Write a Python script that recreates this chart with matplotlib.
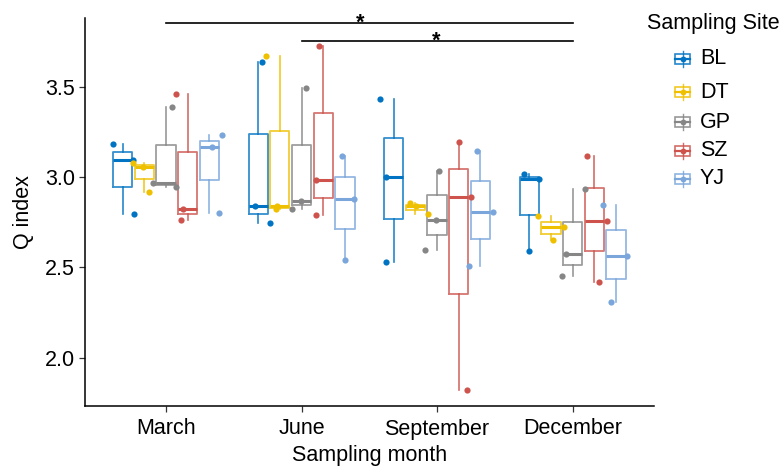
import matplotlib
matplotlib.use("Agg")
import matplotlib.pyplot as plt
from matplotlib.patches import Rectangle
from matplotlib.lines import Line2D
import numpy as np

plt.rcParams['font.family'] = ['Liberation Sans', 'DejaVu Sans']

months = ["March", "June", "September", "December"]
sites = ["BL", "DT", "GP", "SZ", "YJ"]
colors = ["#0073C2", "#EFC000", "#868686", "#CD534C", "#7AA6DC"]

# Q index values (3 samples per site and month)
BL = [[3.183, 3.094, 2.794], [3.637, 2.841, 2.748], [3.432, 3.002, 2.530], [3.017, 2.989, 2.594]]
DT = [[3.078, 3.059, 2.917], [3.670, 2.841, 2.822], [2.856, 2.839, 2.798], [2.785, 2.724, 2.650]]
GP = [[3.387, 2.970, 2.946], [3.493, 2.867, 2.824], [3.035, 2.765, 2.598], [2.933, 2.574, 2.450]]
SZ = [[3.459, 2.826, 2.765], [3.730, 2.983, 2.789], [3.198, 2.891, 1.820], [3.119, 2.759, 2.420]]
YJ = [[3.233, 3.167, 2.802], [3.119, 2.880, 2.543], [3.148, 2.808, 2.508], [2.848, 2.565, 2.309]]
values = [BL, DT, GP, SZ, YJ]

# horizontal jitter of the points (pixels)
jit_BL = [[-10, 10, 11], [3.7, -2.7, 12], [-13.7, -7.7, -7.7], [-4.8, 10.2, -0.5]]
jit_DT = [[-11.7, -1.7, 4.3], [-13.7, -3, -4.3], [-5, 0.7, 12.7], [-13.3, 12.7, 2.3]]
jit_GP = [[5.7, -12.7, 10], [4.5, -0.8, -9.5], [2, -1, -12.3], [12, -6.3, -10.3]]
jit_SZ = [[-11.3, -4.3, -7], [-3.8, -7.5, -7.5], [0.3, 12.7, 8.3], [-7.7, 12.7, 4.3]]
jit_YJ = [[12.3, 2.3, 10], [-2.5, 8.8, -0.2], [-3.7, 12.7, -11], [-13, 11, -5.3]]
jitters = [jit_BL, jit_DT, jit_GP, jit_SZ, jit_YJ]

# significance brackets (from month index, to month index, star label)
sig_from = [0, 1]
sig_to = [3, 3]
sig_label = ["*", "*"]
sig_y = [3.855, 3.754]

W, H = 783, 466
fig = plt.figure(figsize=(W / 100, H / 100), dpi=100)
ax = fig.add_axes([84.6 / W, 1 - 406 / H, (654 - 84.6) / W, (406 - 18) / H])

px_per_unit = 135.6
dodge = 0.16
bw = 0.142
FS = 15.5

for si, (site, col) in enumerate(zip(sites, colors)):
    for mi in range(len(months)):
        vals = values[si][mi]
        pos = mi + 1 + (si - 2) * dodge
        ax.boxplot([vals], positions=[pos], widths=bw, whis=1.5,
                   showcaps=False, showfliers=False, manage_ticks=False,
                   patch_artist=False,
                   boxprops=dict(color=col, linewidth=1.3, alpha=0.8),
                   whiskerprops=dict(color=col, linewidth=1.2, alpha=0.85),
                   medianprops=dict(color=col, linewidth=2.2, solid_capstyle='butt'),
                   zorder=2)
        xs = pos + np.array(jitters[si][mi]) / px_per_unit
        ax.scatter(xs, vals, s=20, color=col, zorder=3, linewidths=0)

ax.set_xlim(0.4, 4.6)
ax.set_ylim(1.732, 3.883)
ax.set_xticks(range(1, len(months) + 1))
ax.set_xticklabels(months)
ax.set_yticks([2.0, 2.5, 3.0, 3.5])
ax.set_yticklabels(["2.0", "2.5", "3.0", "3.5"])
for s in ["top", "right"]:
    ax.spines[s].set_visible(False)
for s in ["left", "bottom"]:
    ax.spines[s].set_linewidth(1.1)
    ax.spines[s].set_color("black")
ax.tick_params(axis='both', labelsize=FS, length=4, width=0.9, color="#333333",
               labelcolor="black")
ax.tick_params(axis='x', pad=5)
ax.tick_params(axis='y', pad=3)
ax.set_xlabel("Sampling month", fontsize=FS, labelpad=4)
ax.set_ylabel("Q index", fontsize=FS, labelpad=8)

star_x = [2.43, 2.99]
star_base = [3.824, 3.726]
for a, b, lab, yy, sx, sb in zip(sig_from, sig_to, sig_label, sig_y, star_x, star_base):
    ax.plot([a + 1, b + 1], [yy, yy], color="black", lw=1.2, clip_on=False, zorder=4)
    ax.text(sx, sb, lab, ha='center', va='baseline', fontsize=15.5,
            fontweight='bold', clip_on=False)

# legend (drawn manually in figure pixels)
def fx(x):
    return x / W

def fy(y):
    return 1 - y / H

fig.text(fx(713), fy(23), "Sampling Site", ha='center', va='center', fontsize=FS)
leg_y = [59, 92, 122, 151, 179]
for site, col, ly in zip(sites, colors, leg_y):
    kx = 682.5
    fig.add_artist(Line2D([fx(kx), fx(kx)], [fy(ly - 8), fy(ly + 8)],
                          color=col, lw=1.0, alpha=0.85))
    fig.add_artist(Rectangle((fx(kx - 7.5), fy(ly + 5)), 15 / W, 10 / H,
                             fill=True, facecolor="white", edgecolor=col,
                             lw=1.2, alpha=0.85))
    fig.add_artist(Line2D([fx(kx - 7.5), fx(kx + 7.5)], [fy(ly), fy(ly)],
                          color=col, lw=1.6))
    fig.add_artist(Line2D([fx(kx)], [fy(ly)], marker='o', markersize=4.2,
                          color=col, markeredgewidth=0))
    fig.text(fx(700), fy(ly), site, ha='left', va='center', fontsize=FS)

fig.savefig("out.png", dpi=100)
